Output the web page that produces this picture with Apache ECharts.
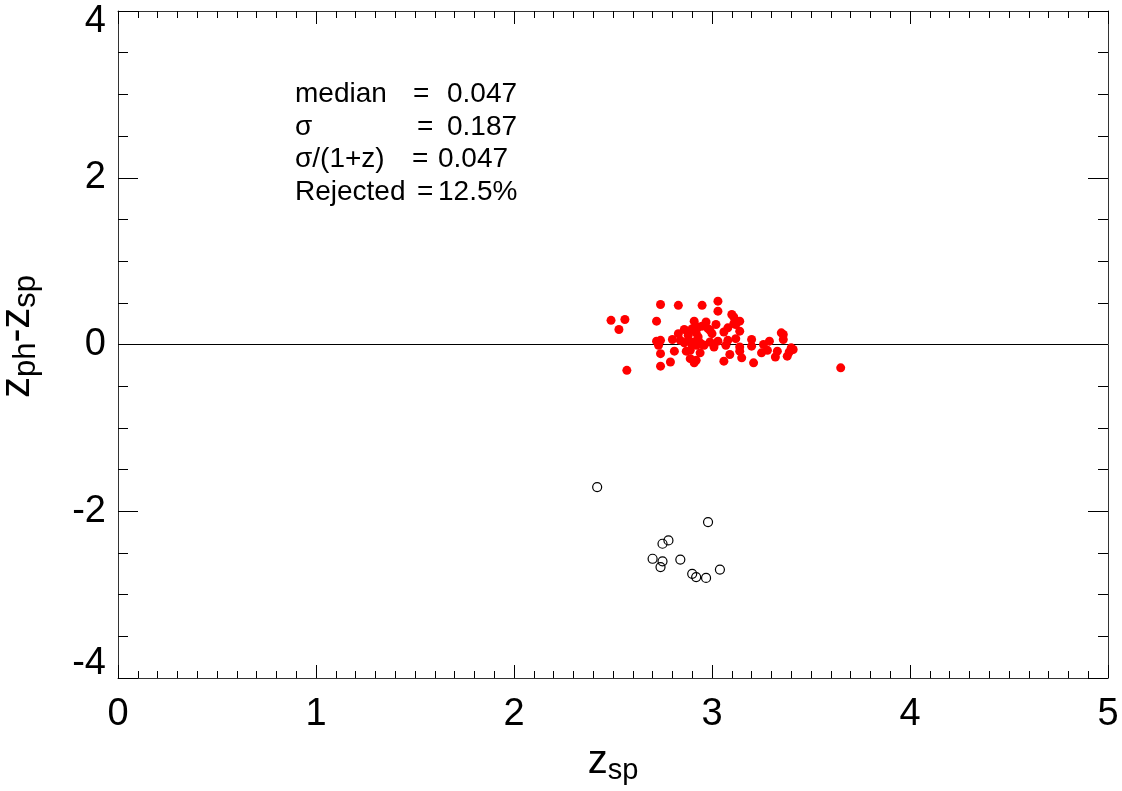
<!DOCTYPE html>
<html>
<head>
<meta charset="utf-8">
<script src="https://cdn.jsdelivr.net/npm/echarts@6/dist/echarts.min.js"></script>
<style>
html,body{margin:0;padding:0;background:#fff;}
#chart{width:1122px;height:791px;}
</style>
</head>
<body>
<div id="chart"></div>
<script>
// Accepted objects: spectroscopic redshift and photo-z minus spec-z
const zspGood = [2.49,2.56,2.53,2.57,2.74,2.83,2.95,3.03,3.03,2.72,3.10,3.11,3.14,3.12,3.02,2.97,2.91,2.95,2.86,2.88,2.90,2.92,2.99,3.08,3.06,3.14,2.88,2.93,2.72,2.74,2.80,2.84,2.86,2.91,2.94,2.99,3.03,3.08,3.12,2.73,2.74,2.81,2.87,2.89,2.94,2.92,2.96,3.01,3.07,3.09,3.14,3.14,3.15,3.20,3.20,3.21,3.26,3.29,3.25,3.28,3.33,3.32,3.35,3.36,3.36,3.40,3.41,3.39,3.38,3.65,2.74,2.79,2.89,2.92,2.91,3.06,2.88,2.93,2.98,2.90,2.95,3.00,2.83,3.11];
const dzGood  = [0.29,0.30,0.18,-0.31,0.48,0.47,0.47,0.52,0.40,0.28,0.36,0.33,0.28,0.24,0.24,0.27,0.28,0.22,0.18,0.16,0.19,0.14,0.17,0.20,0.15,0.16,0.11,0.09,0.04,0.05,0.06,0.05,0.02,0.03,0.02,0.03,0.04,0.05,0.07,-0.01,-0.11,-0.08,-0.08,-0.07,-0.10,-0.01,-0.01,-0.03,-0.01,-0.12,-0.03,-0.08,-0.16,0.06,-0.02,-0.22,0.00,0.04,-0.10,-0.07,-0.08,-0.15,0.14,0.12,0.06,-0.04,-0.06,-0.09,-0.14,-0.28,-0.26,-0.21,-0.17,-0.19,-0.22,-0.20,0.05,0.21,0.19,-0.01,0.00,0.13,0.13,0.25];
// Rejected (outlier) objects
const zspRej = [2.42,2.98,2.78,2.75,2.70,2.75,2.74,2.84,2.90,2.92,2.97,3.04];
const dzRej  = [-1.71,-2.13,-2.35,-2.39,-2.57,-2.60,-2.67,-2.58,-2.75,-2.79,-2.80,-2.70];
// Axis ticks
const xTicks = [0,1,2,3,4,5];
const yTicks = [-4,-2,0,2,4];
// Statistics annotation
const statLabels = ['median','\u03c3','\u03c3/(1+z)','Rejected'];
const statValues = ['0.047','0.187','0.047','12.5%'];

const FONT = "'Liberation Sans', Arial, sans-serif";
const good = zspGood.map((z,i)=>[z,dzGood[i]]);
const rej = zspRej.map((z,i)=>[z,dzRej[i]]);

const chart = echarts.init(document.getElementById('chart'), null, {renderer:'canvas'});

const axisLineStyle = {color:'#333', width:1};
const xNameRich = {
  z:{fontSize:40, fontFamily:FONT, color:'#000', lineHeight:44, verticalAlign:'middle'},
  s:{fontSize:29, fontFamily:FONT, color:'#000', lineHeight:29, padding:[18,0,0,0], verticalAlign:'middle'}
};
const yNameRich = {
  z0:{fontSize:42, fontFamily:FONT, color:'#000', lineHeight:46, verticalAlign:'middle', padding:[0,0,0,16]},
  z:{fontSize:42, fontFamily:FONT, color:'#000', lineHeight:46, verticalAlign:'middle'},
  s:{fontSize:31, fontFamily:FONT, color:'#000', lineHeight:31, padding:[19,0,0,0], verticalAlign:'middle'}
};
function xAxisCfg(pos, showLabel){
  return {
    type:'value', position:pos, min:xTicks[0], max:xTicks[xTicks.length-1], interval:1,
    axisLine:{show:true, onZero:false, lineStyle:axisLineStyle},
    axisTick:{show:true, inside:true, length:13, lineStyle:{color:'#000', width:1}},
    minorTick:{show:true, splitNumber:10, length:7, lineStyle:{color:'#000', width:1}},
    splitLine:{show:false}, minorSplitLine:{show:false},
    axisLabel:{show:showLabel, fontSize:38, color:'#000', fontFamily:FONT, margin:18},
    name: showLabel ? '{z|z}{s|sp}' : '',
    nameLocation:'middle', nameGap:60,
    nameTextStyle:{rich:xNameRich}
  };
}
function yAxisCfg(pos, showLabel){
  return {
    type:'value', position:pos, min:yTicks[0], max:yTicks[yTicks.length-1], interval:2,
    axisLine:{show:true, onZero:false, lineStyle:axisLineStyle},
    axisTick:{show:true, inside:true, length:20, lineStyle:{color:'#000', width:1}},
    minorTick:{show:true, splitNumber:4, length:10, lineStyle:{color:'#000', width:1}},
    splitLine:{show:false}, minorSplitLine:{show:false},
    axisLabel:{show:showLabel, color:'#000', margin:12,
      formatter:function(v){
        if (v===yTicks[yTicks.length-1]) return '{t|'+v+'}';
        if (v===yTicks[0]) return '{b|'+v+'}';
        return '{n|'+v+'}';
      },
      rich:{
        n:{fontSize:38, fontFamily:FONT, color:'#000'},
        t:{fontSize:38, fontFamily:FONT, color:'#000', padding:[22,0,0,0]},
        b:{fontSize:38, fontFamily:FONT, color:'#000', padding:[0,0,28,0]}
      }
    },
    name: showLabel ? '{z0|z}{s|ph}{z|-z}{s|sp}' : '',
    nameLocation:'middle', nameGap:78, nameRotate:90,
    nameTextStyle:{rich:yNameRich}
  };
}

const graphics = [];
const lineY = [97,130,162,195];
const eqX = [413,417,412,417];
const valX = [447,447,438,438];
statLabels.forEach((lab,i)=>{
  graphics.push({type:'text', left:295, top:lineY[i]-17, style:{text:lab, font:'28px '+FONT, fill:'#000'}});
  graphics.push({type:'text', left:eqX[i], top:lineY[i]-17, style:{text:'=', font:'28px '+FONT, fill:'#000'}});
  graphics.push({type:'text', left:valX[i], top:lineY[i]-17, style:{text:statValues[i], font:'28px '+FONT, fill:'#000'}});
});

chart.setOption({
  animation:false,
  backgroundColor:'#fff',
  grid:{left:118, right:14, top:11, bottom:113, containLabel:false, outerBoundsMode:'none'},
  xAxis:[xAxisCfg('bottom', true), xAxisCfg('top', false)],
  yAxis:[yAxisCfg('left', true), yAxisCfg('right', false)],
  graphic: graphics,
  series:[
    {type:'line', data:[[xTicks[0],0],[xTicks[xTicks.length-1],0]], symbol:'none',
     lineStyle:{color:'#000', width:1}, silent:true, z:1},
    {type:'scatter', data:good, symbol:'circle', symbolSize:9,
     itemStyle:{color:'#ff0000', borderWidth:0, opacity:1}, z:3},
    {type:'scatter', data:rej, symbol:'circle', symbolSize:9,
     itemStyle:{color:'rgba(0,0,0,0)', borderColor:'#000', borderWidth:1.2, opacity:1}, z:3}
  ]
});
</script>
</body>
</html>
